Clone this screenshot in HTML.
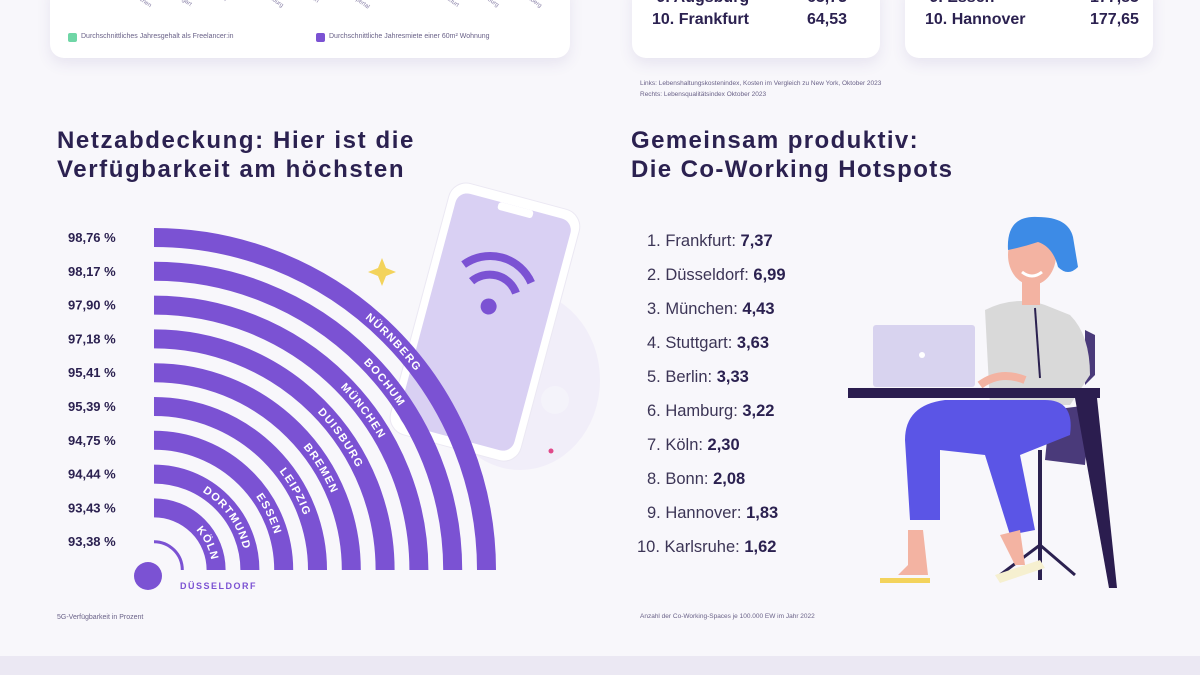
<!DOCTYPE html>
<html><head><meta charset="utf-8"><style>
body{margin:0;width:1200px;height:675px;overflow:hidden;background:#f8f7fb;font-family:"Liberation Sans",sans-serif;position:relative}
.card{position:absolute;background:#fff;border-radius:14px;box-shadow:0 6px 14px rgba(90,70,150,.10);overflow:hidden}
.t{position:absolute;color:#2b2150;white-space:nowrap}
.xl{position:absolute;top:10px;font-size:6px;color:#8a82a8;transform:rotate(35deg);transform-origin:left top}
</style></head><body>
<div class="card" style="left:50px;top:-20px;width:520px;height:78px">
  <div class="xl" style="left:82px">München</div>
  <div class="xl" style="left:124px">Stuttgart</div>
  <div class="xl" style="left:166px">Bonn</div>
  <div class="xl" style="left:214px">Hamburg</div>
  <div class="xl" style="left:256px">Essen</div>
  <div class="xl" style="left:298px">Wuppertal</div>
  <div class="xl" style="left:344px">Köln</div>
  <div class="xl" style="left:390px">Frankfurt</div>
  <div class="xl" style="left:430px">Duisburg</div>
  <div class="xl" style="left:472px">Nürnberg</div>
  <div style="position:absolute;left:18px;top:53px;width:9px;height:9px;background:#6fd6a6;border-radius:2px"></div>
  <div class="t" style="left:31px;top:53px;font-size:7px;color:#6a6288">Durchschnittliches Jahresgehalt als Freelancer:in</div>
  <div style="position:absolute;left:266px;top:53px;width:9px;height:9px;background:#7b52d3;border-radius:2px"></div>
  <div class="t" style="left:279px;top:53px;font-size:7px;color:#6a6288">Durchschnittliche Jahresmiete einer 60m² Wohnung</div>
</div>
<div class="card" style="left:632px;top:-20px;width:248px;height:78px">
  <div class="t" style="left:20px;top:9px;font-size:16px;font-weight:bold">&nbsp;9. Augsburg<span style="position:absolute;left:155px">65,73</span></div>
  <div class="t" style="left:20px;top:31px;font-size:16px;font-weight:bold">10. Frankfurt<span style="position:absolute;left:155px">64,53</span></div>
</div>
<div class="card" style="left:905px;top:-20px;width:248px;height:78px">
  <div class="t" style="left:20px;top:9px;font-size:16px;font-weight:bold">&nbsp;9. Essen<span style="position:absolute;left:165px">177,85</span></div>
  <div class="t" style="left:20px;top:31px;font-size:16px;font-weight:bold">10. Hannover<span style="position:absolute;left:165px">177,65</span></div>
</div>
<div class="t" style="left:640px;top:78px;font-size:6.5px;color:#6a6288;line-height:11px">Links: Lebenshaltungskostenindex, Kosten im Vergleich zu New York, Oktober 2023<br>Rechts: Lebensqualitätsindex Oktober 2023</div>

<div class="t" style="left:57px;top:126px;font-size:24px;font-weight:bold;line-height:29px;letter-spacing:1.6px">Netzabdeckung: Hier ist die<br>Verfügbarkeit am höchsten</div>
<div class="t" style="left:631px;top:126px;font-size:24px;font-weight:bold;line-height:29px;letter-spacing:1.4px">Gemeinsam produktiv:<br>Die Co-Working Hotspots</div>

<svg id="arcs" width="600" height="675" style="position:absolute;left:0;top:0">
  <ellipse cx="520" cy="380" rx="80" ry="90" fill="#eeeaf8" opacity=".7"/>
  <g transform="rotate(15 485 320)">
    <rect x="418" y="192" width="135" height="260" rx="18" fill="#fff" stroke="#ebe8f3" />
    <rect x="426" y="202" width="119" height="240" rx="12" fill="#d9d0f3"/>
    <rect x="468" y="202" width="36" height="8" rx="3" fill="#fff"/>
    <g fill="none" stroke="#7b52d3" stroke-width="8">
      <path d="M450 272 A 45 45 0 0 1 520 272"/>
      <path d="M462 286 A 28 28 0 0 1 508 286"/>
    </g>
    <circle cx="485" cy="306" r="8" fill="#7b52d3"/>
  </g>
  <path d="M378 268 l4 -10 l4 10 l10 4 l-10 4 l-4 10 l-4 -10 l-10 -4z" fill="#f3d35c"/>
  <circle cx="551" cy="451" r="2.5" fill="#e04a8a"/>
  <circle cx="555" cy="400" r="14" fill="#f4f3fa"/>
  <g id="bands"></g>
  <text x="57" y="619" font-size="7" fill="#6a6288" font-family="Liberation Sans">5G-Verfügbarkeit in Prozent</text>
</svg>

<div id="cw"></div>
<div class="t" style="left:640px;top:613px;font-size:6.5px;color:#6a6288">Anzahl der Co-Working-Spaces je 100.000 EW im Jahr 2022</div>

<svg width="320" height="400" style="position:absolute;left:840px;top:210px">
  <g transform="translate(-840,-210)">
    <path d="M1085 330 l10 5 l0 40 l-10 10z" fill="#4a3a7a"/>
    <path d="M1050 410 l40 -5 l-5 60 l-40 -5z" fill="#4a3a7a"/>
    <line x1="1040" y1="450" x2="1040" y2="580" stroke="#2b2150" stroke-width="4"/>
    <path d="M1040 545 l-40 30 M1040 545 l35 30" stroke="#2b2150" stroke-width="3" fill="none"/>
    <path d="M985 310 q30 -15 60 -5 l25 10 q20 20 20 60 l-20 30 l-80 0z" fill="#d9d9d9"/>
    <path d="M1035 308 l5 70" stroke="#2b2150" stroke-width="2"/>
    <path d="M905 440 q0 -35 40 -40 l100 0 q30 0 25 35 l-50 20 l15 75 l-25 5 l-25 -80 l-45 -5 l0 70 l-30 0z" fill="#5b55e6"/>
    <path d="M908 530 l0 35 l-10 10 l30 0 l-5 -45z" fill="#f3b3a2"/>
    <path d="M1000 535 l15 30 l10 0 l-5 -35z" fill="#f3b3a2"/>
    <rect x="880" y="578" width="50" height="5" fill="#f3d35c"/>
    <path d="M995 575 l45 -15 l5 8 l-45 15z" fill="#f6f0d0"/>
    <rect x="873" y="325" width="102" height="62" rx="3" fill="#d8d3ef"/>
    <circle cx="922" cy="355" r="3" fill="#fff"/>
    <path d="M980 385 q20 -15 45 -5" stroke="#f3b3a2" stroke-width="8" fill="none"/>
    <path d="M848 388 l252 0 l0 10 l-252 0z" fill="#2b1d4f"/>
    <path d="M1075 398 l22 0 l20 190 l-8 0z" fill="#2b1d4f"/>
    <rect x="1022" y="270" width="18" height="35" fill="#f3b3a2"/>
    <ellipse cx="1032" cy="255" rx="24" ry="30" fill="#f3b3a2"/>
    <path d="M1008 250 q-2 -35 30 -33 q30 0 35 20 l5 30 q-10 10 -20 0 q-5 -20 -20 -25 q-15 5 -30 8z" fill="#3d8be6"/>
    <path d="M1022 272 q10 8 20 0" stroke="#fff" stroke-width="3" fill="none"/>
  </g>
</svg>
<div style="position:absolute;left:0;top:656px;width:1200px;height:19px;background:#ebe8f3"></div>

<script>
const cities = ["NÜRNBERG","BOCHUM","MÜNCHEN","DUISBURG","BREMEN","LEIPZIG","ESSEN","DORTMUND","KÖLN","DÜSSELDORF"];
const coverage = [98.76,98.17,97.90,97.18,95.41,95.39,94.75,94.44,93.43,93.38];
const cwCities = ["Frankfurt","Düsseldorf","München","Stuttgart","Berlin","Hamburg","Köln","Bonn","Hannover","Karlsruhe"];
const cwValues = [7.37,6.99,4.43,3.63,3.33,3.22,2.30,2.08,1.83,1.62];

const NS="http://www.w3.org/2000/svg";
const cx=154, cy=570, outerR=342, step=33.8, bw=19;
const fmt=v=>v.toFixed(2).replace('.',',');
const svg=document.getElementById('arcs'), g=document.getElementById('bands');
function rad(i){return outerR - step*i - bw/2;}
function labelY(i){return 237 + step*i;}
cities.forEach((c,i)=>{
  const r=rad(i), last=i===cities.length-1;
  const d=`M${cx} ${cy-r} A ${r} ${r} 0 0 1 ${cx+r} ${cy}`;
  const p=document.createElementNS(NS,'path');
  p.setAttribute('d',d);p.setAttribute('fill','none');p.setAttribute('stroke','#7b52d3');
  p.setAttribute('stroke-width',last?3:bw);
  p.setAttribute('id','arc'+i);
  
  
  g.appendChild(p);
  const lt=document.createElementNS(NS,'text');
  lt.setAttribute('x',68);lt.setAttribute('y',labelY(i)+5);
  lt.setAttribute('font-size','13');lt.setAttribute('font-weight','bold');lt.setAttribute('fill','#2b2150');
  lt.setAttribute('font-family','Liberation Sans');
  lt.textContent=fmt(coverage[i])+' %';
  
  
  svg.appendChild(lt);
  const t=document.createElementNS(NS,'text');
  t.setAttribute('font-size',last?9:11);t.setAttribute('font-weight','bold');
  t.setAttribute('font-family','Liberation Sans');t.setAttribute('letter-spacing','1.5');
  
  
  if(last){
    t.setAttribute('x',180);t.setAttribute('y',589);t.setAttribute('fill','#7b52d3');t.textContent=c;
  } else {
    t.setAttribute('fill','#fff');t.setAttribute('dy','4');t.setAttribute('text-anchor','end');
    const tp=document.createElementNS(NS,'textPath');
    tp.setAttribute('href','#arc'+i);
    const endAng=53+ i*3.5;
    tp.setAttribute('startOffset',(endAng/90*100).toFixed(1)+'%');
    tp.textContent=c; t.appendChild(tp);
  }
  svg.appendChild(t);
});
const dot=document.createElementNS(NS,'circle');
dot.setAttribute('cx',148);dot.setAttribute('cy',576);dot.setAttribute('r',14);dot.setAttribute('fill','#7b52d3');


svg.appendChild(dot);

const cw=document.getElementById('cw');
cwCities.forEach((c,i)=>{
  const d=document.createElement('div');
  d.className='t';
  d.style.cssText=`left:${i===9?637:647}px;top:${232+34*i}px;font-size:16.5px;color:#3c3556`;
  d.innerHTML=`${i+1}. ${c}: <b style="color:#2b2150">${fmt(cwValues[i])}</b>`;
  
  
  cw.appendChild(d);
});
</script>
</body></html>
